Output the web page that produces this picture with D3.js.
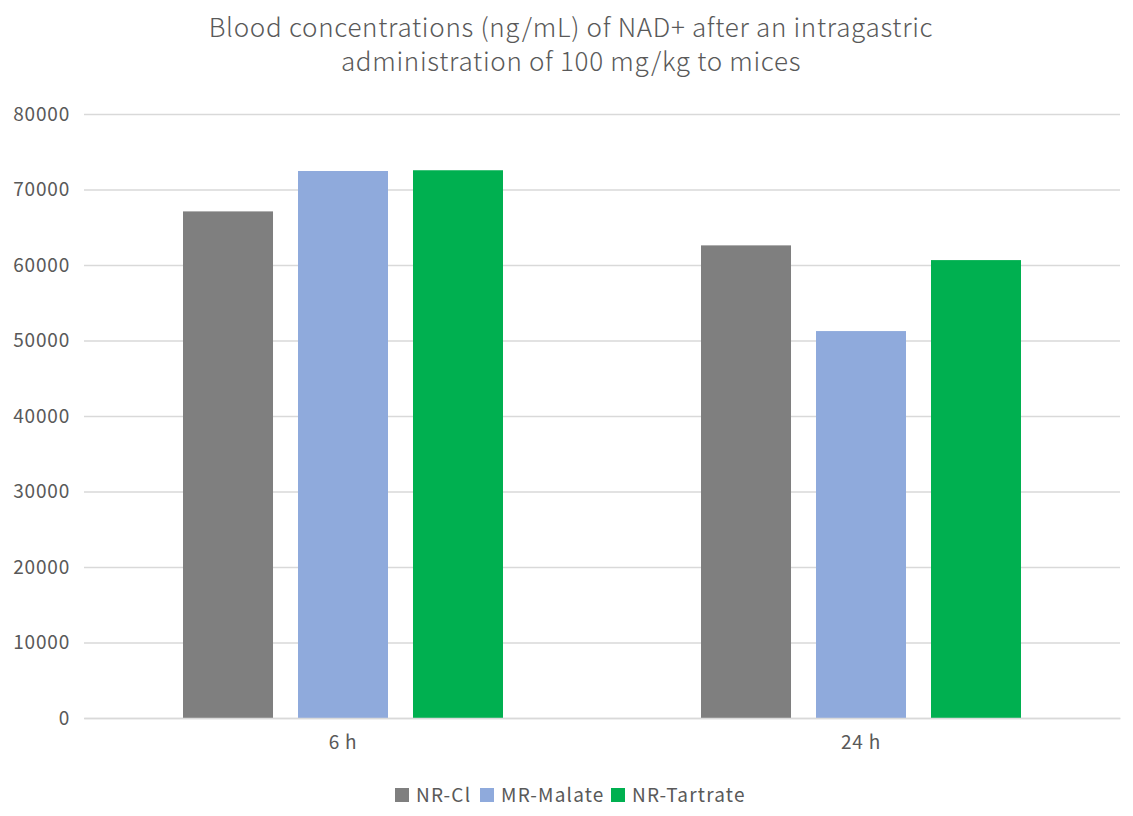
<!DOCTYPE html>
<html>
<head>
<meta charset="utf-8">
<script src="https://cdn.jsdelivr.net/npm/d3@7"></script>
<style>
  body { margin: 0; background: #fff; }
  text { font-family: "Noto Sans CJK SC", "Noto Sans", sans-serif; fill: #595959; }
</style>
</head>
<body>
<script>
// chart data
const categories = ["6 h", "24 h"];
const seriesNames = ["NR-Cl", "MR-Malate", "NR-Tartrate"];
const nrCl = [67100, 62600];
const mrMalate = [72450, 51250];
const nrTartrate = [72550, 60650];
const yTicks = [0, 10000, 20000, 30000, 40000, 50000, 60000, 70000, 80000];
const colors = ["#7f7f7f", "#8faadc", "#00b050"];

const width = 1133, height = 816;
const margin = { top: 114, right: 13, bottom: 98, left: 84 };

const svg = d3.select("body").append("svg")
  .attr("width", width)
  .attr("height", height);

// title, two lines
svg.append("text")
  .attr("x", 571).attr("y", 37)
  .attr("text-anchor", "middle")
  .attr("font-size", "26px")
  .attr("font-weight", 300)
  .attr("letter-spacing", "0.7px")
  .text("Blood concentrations (ng/mL) of NAD+ after an intragastric");
svg.append("text")
  .attr("x", 571).attr("y", 71)
  .attr("text-anchor", "middle")
  .attr("font-size", "26px")
  .attr("font-weight", 300)
  .attr("letter-spacing", "0.7px")
  .text("administration of 100 mg/kg to mices");

let yScale = d3.scaleLinear()
  .domain([0, 80000])
  .range([height - margin.bottom, margin.top]);

let x0 = d3.scaleBand()
  .domain(categories)
  .range([margin.left, width - margin.right]);

let x1 = d3.scaleBand()
  .domain(seriesNames)
  .range([0, x0.bandwidth()])
  .paddingInner(0.2174)
  .paddingOuter(0.861);

// gridlines + y labels
let yAxis = svg.append("g")
  .attr("transform", `translate(${margin.left},0)`)
  .call(d3.axisLeft(yScale)
    .tickValues(yTicks)
    .tickSize(-(width - margin.left - margin.right))
    .tickPadding(14)
    .tickFormat(d3.format("d")));
yAxis.select(".domain").remove();
yAxis.selectAll(".tick line").attr("stroke", "#d9d9d9").attr("stroke-width", 1.5);
yAxis.selectAll(".tick text")
  .attr("font-size", "19px")
  .attr("letter-spacing", "0.8px")
  .attr("font-family", null)
  .attr("fill", "#595959");

// bars
const table = categories.map((c, i) => ({
  cat: c,
  vals: [nrCl[i], mrMalate[i], nrTartrate[i]]
}));

svg.append("g").selectAll("g")
  .data(table)
  .enter().append("g")
    .attr("transform", (d) => `translate(${x0(d.cat)},0)`)
  .selectAll("rect")
  .data((d) => d.vals.map((v, j) => ({ name: seriesNames[j], v: v, j: j })))
  .enter().append("rect")
    .attr("x", (d) => x1(d.name))
    .attr("width", x1.bandwidth())
    .attr("y", (d) => yScale(d.v))
    .attr("height", (d) => yScale(0) - yScale(d.v))
    .attr("fill", (d) => colors[d.j]);

// x axis line + category labels
let xAxis = svg.append("g")
  .attr("transform", `translate(0,${height - margin.bottom})`)
  .call(d3.axisBottom(x0).tickSize(0).tickPadding(18));
xAxis.select(".domain").attr("stroke", "#d9d9d9").attr("stroke-width", 1.5);
xAxis.selectAll(".tick text")
  .attr("font-size", "19px")
  .attr("letter-spacing", "0.8px")
  .attr("font-family", null)
  .attr("fill", "#595959");

// legend
const legendX = [395, 480, 611];
let legend = svg.append("g").selectAll("g")
  .data(seriesNames)
  .enter().append("g")
    .attr("transform", (d, i) => `translate(${legendX[i]},788)`);
legend.append("rect")
  .attr("width", 14).attr("height", 14)
  .attr("fill", (d, i) => colors[i]);
legend.append("text")
  .attr("x", 21).attr("y", 14)
  .attr("font-size", "19px")
  .attr("letter-spacing", "1.2px")
  .text((d) => d);
</script>
</body>
</html>
